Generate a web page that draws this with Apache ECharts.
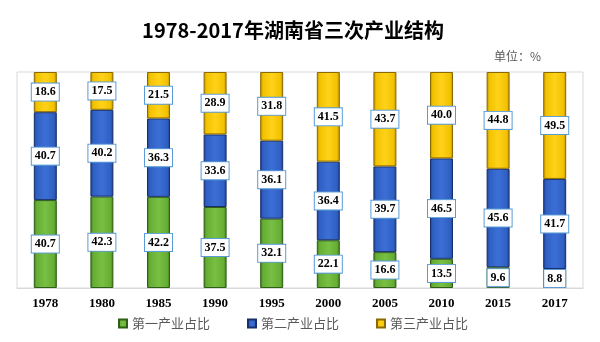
<!DOCTYPE html>
<html><head><meta charset="utf-8">
<script src="https://cdn.jsdelivr.net/npm/echarts@6/dist/echarts.min.js"></script>
<style>html,body{margin:0;padding:0;background:#fff}#c{width:600px;height:342px}</style>
</head><body><div id="c"></div>
<script>
var years = ['1978','1980','1985','1990','1995','2000','2005','2010','2015','2017'];
var primary = [40.7, 42.3, 42.2, 37.5, 32.1, 22.1, 16.6, 13.5, 9.6, 8.8];
var secondary = [40.7, 40.2, 36.3, 33.6, 36.1, 36.4, 39.7, 46.5, 45.6, 41.7];
var tertiary = [18.6, 17.5, 21.5, 28.9, 31.8, 41.5, 43.7, 40.0, 44.8, 49.5];
var seriesNames = ['第一产业占比', '第二产业占比', '第三产业占比'];

function grad(dark, base, light) {
  return new echarts.graphic.LinearGradient(0, 0, 1, 0, [
    {offset: 0, color: dark}, {offset: 0.12, color: base},
    {offset: 0.5, color: light}, {offset: 0.88, color: base}, {offset: 1, color: dark}
  ]);
}
var styles = [
  {c: grad('#3f7a1f', '#66ad34', '#78c043'), b: '#2f5e16', legend: '#5fa52f'},
  {c: grad('#1f3f8a', '#2f5fc2', '#3c6fd6'), b: '#172f6a', legend: '#2e5cbc'},
  {c: grad('#b58a00', '#f2c200', '#ffd21a'), b: '#8a6a00', legend: '#f0c000'}
];
var dataSets = [primary, secondary, tertiary];

var series = dataSets.map(function (d, i) {
  return {
    name: seriesNames[i], type: 'bar', stack: 'total', barWidth: 23,
    data: d,
    itemStyle: {color: styles[i].c, borderColor: styles[i].b, borderWidth: 1},
    label: {
      show: true, position: 'inside',
      formatter: function (p) { return p.value.toFixed(1); },
      backgroundColor: '#fff', borderColor: '#5b9bd5', borderWidth: 1,
      padding: [3, 3, 2, 3], color: '#000',
      fontFamily: '"Liberation Serif","Times New Roman",serif', fontSize: 12, fontWeight: 'bold'
    }
  };
});

var chart = echarts.init(document.getElementById('c'));
chart.setOption({
  animation: false,
  color: styles.map(function (s) { return s.legend; }),
  title: [{
    text: '1978-2017年湖南省三次产业结构', left: 288, top: 15, textAlign: 'center',
    textStyle: {fontSize: 20, fontWeight: 'bold', color: '#000', fontFamily: '"Noto Sans CJK SC",sans-serif'}
  }, {
    text: '单位：%', left: 489, top: 45,
    textStyle: {fontSize: 12, fontWeight: 'normal', color: '#595959', fontFamily: '"Noto Sans CJK SC",sans-serif'}
  }],
  grid: {left: 17, right: 17, top: 72, bottom: 54, show: true, borderColor: '#d9d9d9', borderWidth: 1},
  legend: {
    left: 113, top: 312, itemWidth: 8, itemHeight: 8, itemGap: 37,
    icon: 'rect',
    textStyle: {fontSize: 13, color: '#595959', fontFamily: '"Noto Sans CJK SC",sans-serif'},
    data: seriesNames
  },
  xAxis: {
    type: 'category', data: years,
    axisLine: {lineStyle: {color: '#d9d9d9'}}, axisTick: {show: false},
    axisLabel: {color: '#000', fontSize: 13, fontWeight: 'bold', margin: 9,
      fontFamily: '"Liberation Serif","Times New Roman",serif'}
  },
  yAxis: {type: 'value', min: 0, max: 100, show: false, splitLine: {show: false}},
  series: series
});
</script></body></html>
